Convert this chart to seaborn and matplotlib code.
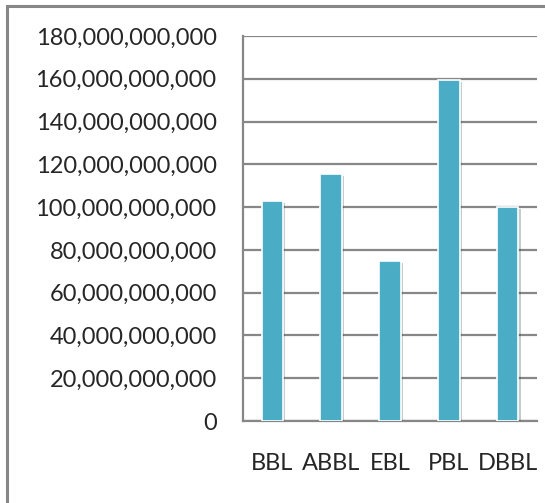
import pandas as pd
import matplotlib
matplotlib.use("Agg")
import matplotlib.pyplot as plt
import matplotlib.patheffects as pe
from matplotlib.ticker import FuncFormatter, MultipleLocator, FixedLocator
from matplotlib.patches import Rectangle
import seaborn as sns

# data
banks = ["BBL", "ABBL", "EBL", "PBL", "DBBL"]
values = [103e9, 115.5e9, 75e9, 159.5e9, 100e9]

df = pd.DataFrame({"bank": banks, "value": values})

sns.set_style("white")
plt.rcParams["font.family"] = ["Lato", "DejaVu Sans"]

grey = "#878787"
fig = plt.figure(figsize=(5.45, 5.03), dpi=100)
ax = fig.add_axes([0.4459, 0.163, 0.5394, 0.7654])

sns.barplot(x="bank", y="value", data=df, color="#4BACC6", width=0.37,
            edgecolor="white", linewidth=1.2, saturation=1, ax=ax, zorder=3)
for bar in ax.patches:
    bar.set_path_effects([pe.SimplePatchShadow(offset=(1.5, -1.5), alpha=0.25),
                          pe.Normal()])

ax.set_ylim(0, 180e9)
ax.set_xlim(-0.5, len(banks) - 0.5)
ax.yaxis.set_major_locator(MultipleLocator(20e9))
ax.yaxis.set_major_formatter(FuncFormatter(lambda v, p: f"{v:,.0f}"))
ax.yaxis.grid(True, color=grey, linewidth=1.6, zorder=0)
ax.set_axisbelow(True)

# ticks between categories on x
ax.xaxis.set_minor_locator(FixedLocator([i - 0.5 for i in range(len(banks) + 1)]))
ax.tick_params(axis="x", which="minor", length=6, width=1.6, color=grey, direction="out")
ax.tick_params(axis="x", which="major", length=0, pad=23, labelsize=17)
ax.tick_params(axis="y", length=6, width=1.6, color=grey, direction="out", pad=13, labelsize=17)

for s in ["top", "right"]:
    ax.spines[s].set_visible(False)
for s in ["left", "bottom"]:
    ax.spines[s].set_color(grey)
    ax.spines[s].set_linewidth(1.6)

ax.set_xlabel("")
ax.set_ylabel("")

# outer chart border
fig.patches.append(Rectangle((7 / 545, -0.5), 2, 1.5 - 6 / 503, transform=fig.transFigure,
                             fill=False, edgecolor=grey, linewidth=2.2))

fig.savefig("out.png", dpi=100)
